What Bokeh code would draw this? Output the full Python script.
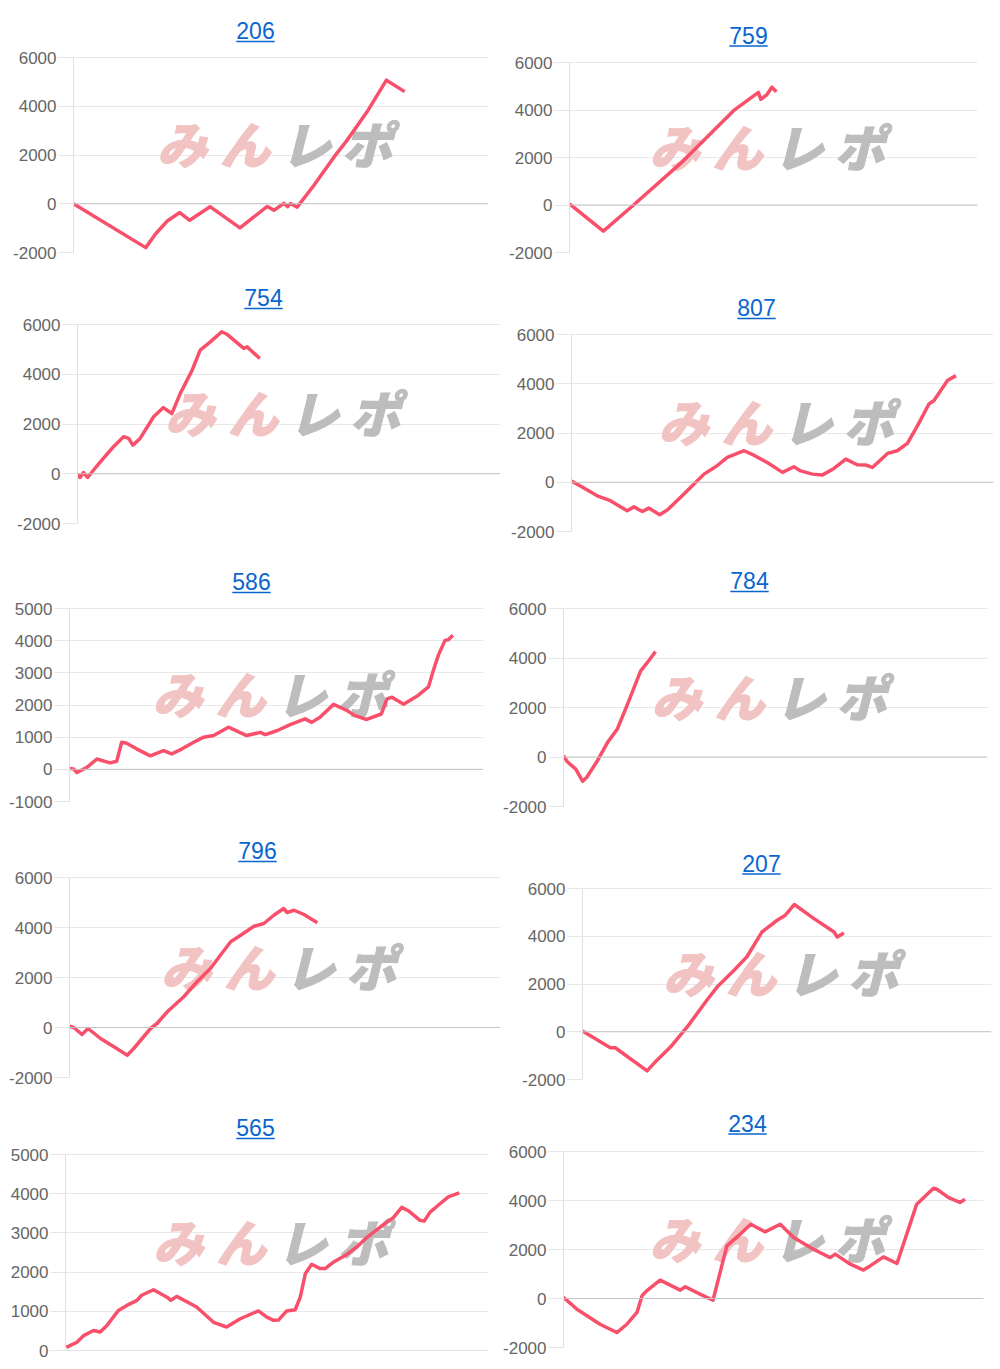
from bokeh.plotting import figure
from bokeh.layouts import column, row
from bokeh.models import Range1d, FixedTicker, Span, Label, BoxAnnotation, PrintfTickFormatter
from bokeh.embed import file_html
from bokeh.resources import INLINE

# ---------------- data (x = % of session, y = medals) ----------------
titles = ["206", "759", "754", "807", "586", "784", "796", "207", "565", "234"]

x_206 = [0, 17.4, 19.8, 22.6, 25.6, 28.0, 32.9, 40.1, 46.7, 48.3, 50.7, 51.6, 52.3, 53.9, 57.9, 62.7, 65.9, 70.7, 75.4, 79.8]
y_206 = [0, -1800, -1230, -710, -360, -680, -120, -990, -110, -270, 20, -120, 10, -140, 750, 1900, 2600, 3760, 5070, 4600]

x_759 = [0, 8.3, 15.7, 27.9, 40.2, 46.3, 46.9, 48.4, 49.6, 50.7]
y_759 = [50, -1100, 0, 1860, 3970, 4740, 4450, 4650, 4960, 4770]

x_754 = [0, 0.6, 1.4, 2.4, 3.8, 5.4, 8.5, 10.9, 12.1, 13.1, 14.8, 18.0, 20.3, 22.3, 24.3, 27.1, 29.0, 31.4, 34.1, 35.3, 39.3, 40.1, 43.1]
y_754 = [0, -150, 50, -150, 150, 480, 1085, 1490, 1420, 1150, 1420, 2290, 2660, 2420, 3230, 4160, 4970, 5300, 5710, 5610, 5040, 5100, 4630]

x_807 = [0, 2.1, 6.1, 9.2, 13.2, 14.8, 16.8, 18.3, 20.9, 22.7, 25.8, 28.2, 31.4, 34.5, 36.9, 40.9, 43.2, 46.4, 50.0, 52.7, 54.3, 57.1, 59.4, 62.2, 65.0, 67.7, 69.7, 71.3, 74.9, 77.2, 79.6, 82.0, 84.7, 85.9, 89.1, 91.1]
y_807 = [50, -150, -550, -750, -1160, -1000, -1190, -1050, -1320, -1130, -620, -210, 330, 670, 1010, 1280, 1100, 800, 400, 630, 460, 330, 290, 560, 940, 710, 700, 600, 1170, 1280, 1580, 2300, 3180, 3320, 4130, 4330]

x_586 = [0, 1.0, 1.8, 4.2, 6.6, 9.8, 11.4, 12.6, 13.8, 16.3, 19.5, 22.7, 24.7, 27.1, 30.0, 32.4, 34.8, 38.4, 42.8, 46.1, 47.3, 50.1, 53.3, 56.9, 58.5, 60.5, 63.8, 67.0, 69.0, 71.8, 75.3, 76.7, 77.9, 80.7, 83.9, 86.7, 87.9, 89.1, 90.7, 91.5, 92.6]
y_586 = [30, 10, -100, 60, 320, 200, 250, 840, 810, 630, 420, 580, 480, 630, 840, 1000, 1050, 1310, 1050, 1150, 1080, 1200, 1390, 1570, 1460, 1620, 2020, 1830, 1670, 1550, 1720, 2190, 2240, 2020, 2270, 2560, 3080, 3550, 4010, 4030, 4170]

x_784 = [0, 0.9, 2.9, 4.5, 5.5, 8.0, 10.4, 12.7, 15.1, 18.2, 19.8, 21.7]
y_784 = [50, -190, -490, -980, -820, -150, 590, 1130, 2140, 3480, 3820, 4260]

x_796 = [0, 1.0, 2.9, 4.3, 7.2, 10.3, 13.4, 14.9, 18.8, 20.3, 22.7, 26.5, 29.6, 32.7, 35.0, 37.4, 39.7, 42.8, 45.1, 47.4, 49.7, 50.5, 52.1, 54.4, 57.5]
y_796 = [50, 0, -280, -40, -440, -770, -1110, -840, -40, 160, 630, 1230, 1830, 2360, 2890, 3430, 3690, 4050, 4160, 4490, 4760, 4600, 4690, 4520, 4190]

x_207 = [0, 6.8, 8.0, 15.8, 18.2, 21.5, 25.6, 30.4, 32.9, 37.0, 40.2, 43.9, 47.6, 49.6, 51.8, 56.6, 61.5, 62.3, 63.9]
y_207 = [30, -670, -670, -1640, -1190, -640, 200, 1320, 1870, 2570, 3140, 4180, 4670, 4880, 5330, 4740, 4180, 3970, 4140]

x_565 = [0.2, 2.7, 4.3, 6.6, 8.2, 9.8, 12.5, 14.5, 16.9, 18.0, 20.8, 24.0, 24.9, 26.3, 31.0, 35.0, 38.1, 41.3, 45.6, 47.6, 49.2, 50.4, 52.3, 54.3, 55.5, 56.7, 58.2, 60.2, 61.4, 63.4, 66.5, 68.9, 71.2, 74.4, 77.5, 79.5, 81.1, 83.8, 84.8, 86.2, 88.6, 90.5, 93.1]
y_565 = [80, 210, 380, 510, 470, 640, 1020, 1150, 1280, 1410, 1550, 1360, 1280, 1380, 1110, 720, 600, 810, 1010, 850, 770, 780, 1010, 1040, 1360, 1960, 2200, 2090, 2090, 2260, 2450, 2640, 2880, 3150, 3390, 3650, 3560, 3320, 3300, 3530, 3750, 3920, 4020]

x_234 = [0, 3.2, 8.7, 12.7, 15.1, 17.5, 18.7, 19.8, 23.0, 27.8, 29.0, 32.5, 35.6, 38.9, 42.1, 44.6, 48.0, 51.6, 54.8, 59.5, 63.5, 64.7, 68.3, 71.4, 73.0, 76.2, 79.4, 84.1, 88.1, 88.9, 91.7, 94.4, 95.6]
y_234 = [50, -440, -1050, -1390, -1050, -570, 110, 310, 750, 340, 480, 180, -70, 2150, 2630, 3030, 2720, 3030, 2490, 2010, 1670, 1810, 1400, 1160, 1330, 1700, 1430, 3850, 4500, 4460, 4120, 3920, 4050]

ticks_a = [-2000, 0, 2000, 4000, 6000]
ticks_b = [-1000, 0, 1000, 2000, 3000, 4000, 5000]
ticks_c = [0, 1000, 2000, 3000, 4000, 5000]

series = [(x_206, y_206, ticks_a), (x_759, y_759, ticks_a), (x_754, y_754, ticks_a),
          (x_807, y_807, ticks_a), (x_586, y_586, ticks_b), (x_784, y_784, ticks_a),
          (x_796, y_796, ticks_a), (x_207, y_207, ticks_a), (x_565, y_565, ticks_c),
          (x_234, y_234, ticks_a)]

# ---------------- layout (page pixel geometry, page has no margin) ----------------
ROWS = [0, 270, 556, 826, 1098, 1366]
COLS = [(0, 500), (500, 496)]          # figure left, figure width
# axis-area left, right, top tick, bottom tick
FRAMES = [(73, 488, 57, 252), (569, 977, 62, 252),
          (77, 500, 324, 523), (571, 993, 334, 531),
          (69, 483, 608, 801), (563, 987, 608, 806),
          (69, 500, 877, 1077), (582, 991, 888, 1079),
          (65, 488, 1154, 1350), (563, 983, 1151, 1347)]
# title centre x, baseline y, underline y
TITLE_POS = [(255, 38, 41), (748, 43, 45.5), (263, 305, 308), (756, 315, 318),
             (251, 589, 592), (749, 588, 591), (257, 858, 861), (761, 871, 873.5),
             (255, 1135, 1138), (747, 1131, 1133.5)]

LINE_COLOR = "#f8506b"
TITLE_COLOR = "#0a66cf"
FONT = "Liberation Sans"
LOGO_FONT = "Noto Sans CJK JP Black, Noto Sans CJK JP Bold, Noto Sans CJK JP"


def make_chart(i):
    xs, ys, ticks = series[i]
    col, r = i % 2, i // 2
    fig_left, fig_w = COLS[col]
    row_top, row_bot = ROWS[r], ROWS[r + 1]
    L, R, T, B = FRAMES[i]
    R = min(R, fig_left + fig_w)
    ymin, ymax = ticks[0], ticks[-1]
    dpp = (ymax - ymin) / (B - T)            # data units per pixel
    y_top = ymax + (T - row_top) * dpp       # frame reaches up to hold the title
    xpp = 100.0 / (R - L)

    p = figure(frame_width=R - L, frame_height=B - row_top,
               min_border_left=L - fig_left, min_border_right=fig_left + fig_w - R,
               min_border_top=0, min_border_bottom=row_bot - B,
               x_range=Range1d(0, 100), y_range=Range1d(ymin, y_top),
               toolbar_location=None, output_backend="svg")
    p.outline_line_color = None
    p.background_fill_color = "white"
    p.border_fill_color = "white"
    p.xaxis.visible = False
    p.xgrid.visible = False
    yax = p.yaxis[0]
    yax.ticker = FixedTicker(ticks=ticks)
    yax.formatter = PrintfTickFormatter(format="%d")
    yax.bounds = (ymin, ymax)
    yax.major_label_text_font = FONT
    yax.major_label_text_font_size = "17px"
    yax.major_label_text_color = "#666666"
    yax.axis_line_color = "#e0e0e0"
    yax.major_tick_line_color = "#e6e6e6"
    yax.major_tick_in = 0
    yax.major_tick_out = 15
    yax.minor_tick_line_color = None
    yax.major_label_standoff = 2
    p.ygrid.ticker = FixedTicker(ticks=ticks)
    p.ygrid.grid_line_color = "#e8e8e8"
    p.add_layout(Span(location=0, dimension="width", line_color="#c4c4c4", line_width=1))

    # watermark logo text
    ymid = (ymin + ymax) / 2
    for ch, dx, colr in [("み", -99, "#f2c3c3"), ("ん", -36, "#f2c3c3"),
                         ("レ", 25, "#bdbdbd"), ("ポ", 86, "#bdbdbd")]:
        p.add_layout(Label(x=50, y=ymid, x_offset=dx, y_offset=13, text=ch,
                           text_font=LOGO_FONT, text_font_style="bold italic",
                           text_font_size="50px", text_color=colr,
                           text_outline_color=colr,
                           text_align="center", text_baseline="middle", level="underlay"))

    p.line(xs, ys, line_color=LINE_COLOR, line_width=3.5, line_join="round")

    # title with underline
    cx, base, ul = TITLE_POS[i]
    tx = (cx - L) * xpp
    p.add_layout(Label(x=tx, y=ymax + (T - (base - 8)) * dpp, text=titles[i],
                       text_font=FONT, text_font_size="23px",
                       text_color=TITLE_COLOR, text_align="center", text_baseline="middle"))
    half_w = 19.2 * xpp
    p.add_layout(BoxAnnotation(left=tx - half_w, right=tx + half_w,
                               top=ymax + (T - ul + 0.8) * dpp, bottom=ymax + (T - ul - 0.8) * dpp,
                               fill_color=TITLE_COLOR, fill_alpha=1.0, line_color=None))
    return p


charts = [make_chart(i) for i in range(10)]
layout = column([row(charts[2 * k], charts[2 * k + 1], spacing=0) for k in range(5)], spacing=0)

open("out.html", "w").write(file_html(layout, INLINE, title="chart"))
